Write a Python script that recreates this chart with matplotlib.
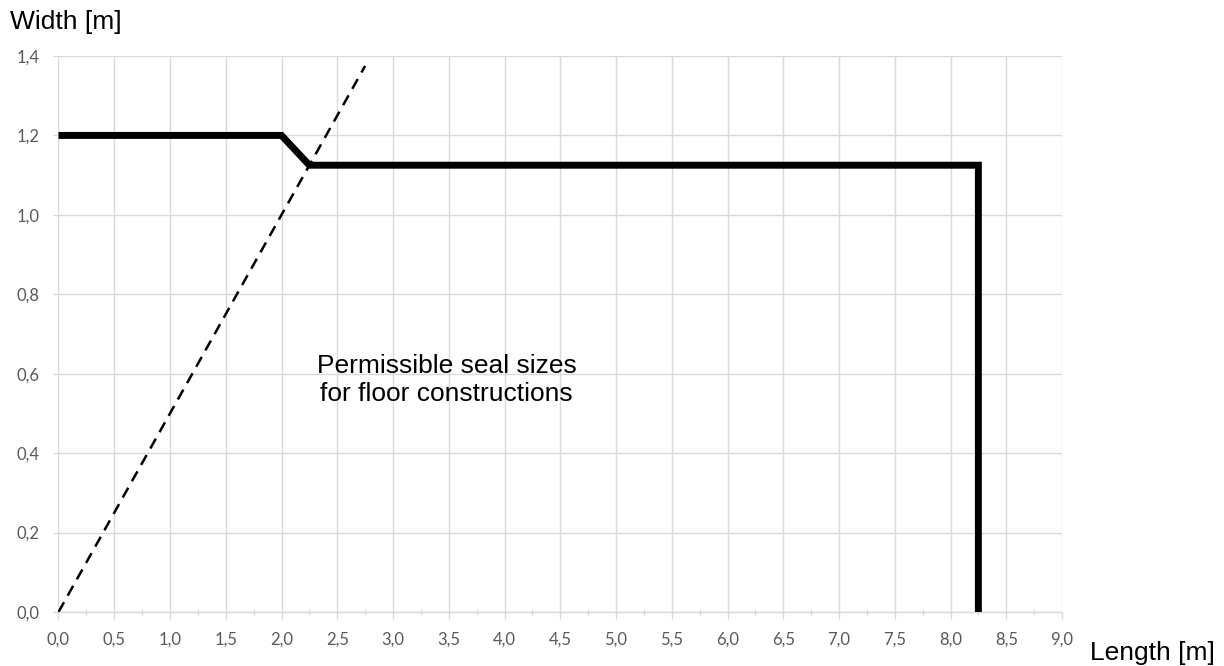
import matplotlib.pyplot as plt
from matplotlib.ticker import MultipleLocator, FuncFormatter

# 許容シールサイズの境界
seal_length = [0.0, 2.0, 2.25, 8.25, 8.25]
seal_width = [1.2, 1.2, 1.125, 1.125, 0.0]

# 破線（幅 = 長さ / 2）
ratio_length = [0.0, 2.75]
ratio_width = [0.0, 1.375]

label_x = 'Length [m]'
label_y = 'Width [m]'
note = 'Permissible seal sizes\nfor floor constructions'

fig = plt.figure(figsize=(12.24, 6.66), dpi=100)
ax = fig.add_axes([58.5 / 1224, 1 - 612 / 666, (1062 - 58.5) / 1224, (612 - 56) / 666])

ax.plot(seal_length, seal_width, color='black', linewidth=5,
        solid_capstyle='butt', solid_joinstyle='miter', zorder=3)
ax.plot(ratio_length, ratio_width, color='black', linewidth=1.8,
        linestyle=(0, (4.5, 3)), zorder=3)

ax.set_xlim(0, 9)
ax.set_ylim(0, 1.4)

ax.xaxis.set_major_locator(MultipleLocator(0.5))
ax.xaxis.set_minor_locator(MultipleLocator(0.25))
ax.yaxis.set_major_locator(MultipleLocator(0.2))

fmt = FuncFormatter(lambda v, p: f'{v:.1f}'.replace('.', ','))
ax.xaxis.set_major_formatter(fmt)
ax.yaxis.set_major_formatter(fmt)

grid_col = '#d9d9d9'
ax.grid(True, which='major', color=grid_col, linewidth=1)
ax.set_axisbelow(True)
for s in ['top', 'right', 'left']:
    ax.spines[s].set_visible(False)
ax.spines['bottom'].set_color(grid_col)
ax.spines['bottom'].set_linewidth(1)

ax.tick_params(axis='x', which='major', direction='out', length=5, width=1,
               color=grid_col, labelsize=12, labelcolor='#595959', pad=9)
ax.tick_params(axis='x', which='minor', direction='inout', length=4.5, width=1,
               color=grid_col)
ax.tick_params(axis='y', which='major', direction='out', length=3.6, width=1,
               color=grid_col, labelsize=12, labelcolor='#595959', pad=10)
for lab in ax.get_xticklabels() + ax.get_yticklabels():
    lab.set_family(['Lato', 'DejaVu Sans'])

ax.text(3.48, 0.585, note, ha='center', va='center', fontsize=19,
        family='Liberation Sans', linespacing=1.2)

fig.text(10 / 1224, 1 - 29 / 666, label_y, ha='left', va='baseline',
         fontsize=19, family='Liberation Sans')
fig.text(1090 / 1224, 6 / 666, label_x, ha='left', va='baseline',
         fontsize=19, family='Liberation Sans')

plt.savefig('out.png', dpi=100)
